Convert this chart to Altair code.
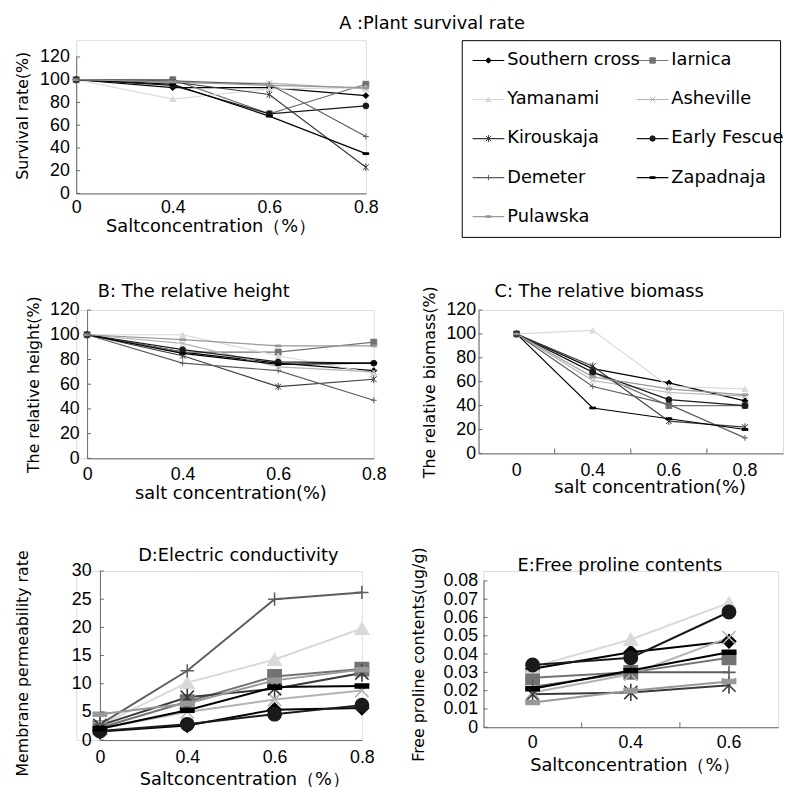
import altair as alt
import pandas as pd

# ---------------- data ----------------
SERIES = ["Southern cross", "Iarnica", "Yamanami", "Asheville", "Kirouskaja",
          "Early Fescue", "Demeter", "Zapadnaja", "Pulawska"]
COLORS = ["#000000", "#737373", "#d9d9d9", "#b3b3b3", "#3a3a3a",
          "#1a1a1a", "#5e5e5e", "#000000", "#999999"]
SHAPES = ["diamond", "square", "triangle-up",
          "M-1,-1L1,1M-1,1L1,-1",
          "M-1,-1L1,1M-1,1L1,-1M0,-1.3L0,1.3",
          "circle",
          "M-1,0L1,0M0,-1L0,1",
          "M-1,-0.3L1,-0.3L1,0.3L-1,0.3Z",
          "M-1,-0.3L1,-0.3L1,0.3L-1,0.3Z"]

X4 = ["0", "0.4", "0.6", "0.8"]
X3 = ["0", "0.4", "0.6"]

SURVIVAL = {
    "Southern cross": [100, 93, 93, 86],
    "Iarnica": [100, 100, 70, 96],
    "Yamanami": [100, 83, 92, 93],
    "Asheville": [100, 97, 97, 92],
    "Kirouskaja": [100, 98, 87, 23],
    "Early Fescue": [100, 95, 70, 77],
    "Demeter": [100, 99, 96, 50],
    "Zapadnaja": [100, 96, 68, 35],
    "Pulawska": [100, 98, 95, 93],
}
HEIGHT = {
    "Southern cross": [100, 86, 77, 71],
    "Iarnica": [100, 86, 86, 94],
    "Yamanami": [100, 100, 83, 69],
    "Asheville": [100, 93, 74, 70],
    "Kirouskaja": [100, 83, 58, 64],
    "Early Fescue": [100, 88, 78, 77],
    "Demeter": [100, 77, 71, 47],
    "Zapadnaja": [100, 85, 76, 77],
    "Pulawska": [100, 96, 91, 91],
}
BIOMASS = {
    "Southern cross": [100, 71, 59, 44],
    "Iarnica": [100, 68, 40, 40],
    "Yamanami": [100, 103, 56, 54],
    "Asheville": [100, 61, 51, 48],
    "Kirouskaja": [100, 73, 27, 22],
    "Early Fescue": [100, 68, 45, 40],
    "Demeter": [100, 56, 41, 13],
    "Zapadnaja": [100, 38, 29, 20],
    "Pulawska": [100, 64, 54, 49],
}
CONDUCT = {
    "Southern cross": [1.5, 2.6, 5.4, 5.7],
    "Iarnica": [2.2, 6.8, 11.3, 12.6],
    "Yamanami": [2.6, 10.2, 14.3, 19.8],
    "Asheville": [2.0, 5.0, 7.2, 8.8],
    "Kirouskaja": [2.6, 7.6, 9.1, 11.9],
    "Early Fescue": [1.6, 2.8, 4.6, 6.2],
    "Demeter": [2.8, 12.3, 25.0, 26.2],
    "Zapadnaja": [2.0, 5.3, 9.4, 9.6],
    "Pulawska": [4.6, 6.5, 10.6, 12.5],
}
PROLINE = {
    "Southern cross": [0.032, 0.041, 0.047],
    "Iarnica": [0.027, 0.030, 0.038],
    "Yamanami": [0.033, 0.048, 0.068],
    "Asheville": [0.019, 0.029, 0.049],
    "Kirouskaja": [0.018, 0.019, 0.023],
    "Early Fescue": [0.034, 0.038, 0.063],
    "Demeter": [0.022, 0.030, 0.030],
    "Zapadnaja": [0.021, 0.031, 0.041],
    "Pulawska": [0.0135, 0.020, 0.025],
}

TICKS_100 = [0, 20, 40, 60, 80, 100, 120]
TICKS_30 = [0, 5, 10, 15, 20, 25, 30]
TICKS_008 = [0, 0.01, 0.02, 0.03, 0.04, 0.05, 0.06, 0.07, 0.08]

TITLE_A = "A :Plant survival rate"
TITLE_B = "B: The relative  height"
TITLE_C = "C: The relative biomass"
TITLE_D = "D:Electric conductivity"
TITLE_E = "E:Free proline contents"

# ---------------- style ----------------
FONT = "DejaVu Sans"
TICKFONT = "Liberation Sans"
AXC = "#666666"

color_scale = alt.Scale(domain=SERIES, range=COLORS)
shape_scale = alt.Scale(domain=SERIES, range=SHAPES)


def long_df(values, cats):
    rows = []
    for s in SERIES:
        for c, v in zip(cats, values[s]):
            rows.append({"series": s, "x": c, "y": v})
    return pd.DataFrame(rows)


def panel(values, cats, band, w, h, ydom, yvals, ytitle, xtitle,
          y_lp, y_ext, y_tp, x_lp, x_tp, msize, lw,
          xrange=None, yrange=None, yoff=0, xtitle_x=None, ytitle_y=None,
          title=None, tx=0, ty=0, labelexpr=None):
    df = long_df(values, cats)
    skw = dict(domain=cats)
    if xrange:
        skw["range"] = xrange
    if band:
        xscale = alt.Scale(type="band", paddingInner=0, paddingOuter=0, **skw)
    else:
        xscale = alt.Scale(type="point", padding=0, **skw)
    xkw = dict(title=xtitle, labelFont=TICKFONT, labelFontSize=18,
               labelPadding=x_lp, ticks=False, labelAngle=0,
               titleFont=FONT, titleFontSize=18, titleFontWeight="normal",
               titlePadding=x_tp, minExtent=25, maxExtent=25,
               domainColor=AXC, labelColor="#000", titleColor="#000")
    if xtitle_x is not None:
        xkw["titleX"] = xtitle_x
    xaxis = alt.Axis(**xkw)
    ykw = dict(title=ytitle, values=yvals, labelFont=TICKFONT, labelFontSize=18,
               labelPadding=y_lp, ticks=False, grid=False, offset=yoff,
               titleFont=FONT, titleFontSize=16, titleFontWeight="normal",
               titlePadding=y_tp, minExtent=y_ext, maxExtent=y_ext,
               domainColor=AXC, labelColor="#000", titleColor="#000")
    if labelexpr:
        ykw["labelExpr"] = labelexpr
    if ytitle_y is not None:
        ykw["titleY"] = ytitle_y
    yaxis = alt.Axis(**ykw)
    ysk = dict(domain=ydom, nice=False, zero=True)
    if yrange:
        ysk["range"] = yrange
    yscale = alt.Scale(**ysk)

    if band:
        X = alt.X("x:O", scale=xscale, axis=xaxis, bandPosition=0.5)
    else:
        X = alt.X("x:O", scale=xscale, axis=xaxis)
    Y = alt.Y("y:Q", scale=yscale, axis=yaxis)

    base = alt.Chart(df)
    lines = base.mark_line(strokeWidth=lw).encode(
        x=X, y=Y,
        stroke=alt.Stroke("series:N", scale=color_scale, legend=None),
        detail="series:N")
    points = base.mark_point(size=msize, opacity=1, strokeWidth=max(1, lw * 0.8)).encode(
        x=X, y=Y,
        shape=alt.Shape("series:N", scale=shape_scale, legend=None),
        fill=alt.Fill("series:N", scale=color_scale, legend=None),
        stroke=alt.Stroke("series:N", scale=color_scale, legend=None))
    ytick = alt.Chart(pd.DataFrame({"y": yvals})).mark_rule(color=AXC, strokeWidth=1).encode(
        y=Y, x=alt.value(-yoff), x2=alt.value(-yoff + 4))
    layers = [lines, points, ytick]
    if band:
        xt = alt.Chart(pd.DataFrame({"x": cats[1:]})).mark_rule(color=AXC, strokeWidth=1).encode(
            x=alt.X("x:O", scale=xscale, axis=xaxis, bandPosition=0),
            y=alt.value(h), y2=alt.value(h - 5))
        layers.append(xt)
    if title:
        tt = alt.Chart(pd.DataFrame({"t": [title]})).mark_text(
            font=FONT, fontSize=18, align="center", baseline="alphabetic", color="#000"
        ).encode(text="t:N", x=alt.value(tx), y=alt.value(ty))
        layers.append(tt)
    return alt.layer(*layers).properties(width=w, height=h)


# view origins of the left panels are aligned by the layout
A = panel(SURVIVAL, X4, False, 293, 155, [0, 120], TICKS_100, "Survival rate(%)",
          "Saltconcentration（%）", 7, 38, 8.5, 5, 0, 35, 1.2,
          yrange=[155, 17], xtitle_x=136, ytitle_y=76)
B = panel(HEIGHT, X4, False, 301, 150, [0, 120], TICKS_100, "The relative height(%)",
          "salt concentration(%)", 8, 38, 8.5, 7, 2, 35, 1.2,
          xrange=[11, 301], yoff=-11, title=TITLE_B, tx=119, ty=-13)
C = panel(BIOMASS, X4, True, 308, 145, [0, 120], TICKS_100, "The relative biomass(%)",
          "salt concentration(%)", 3, 33, 8.5, 8.5, 1, 35, 1.2,
          xtitle_x=173, title=TITLE_C, tx=122, ty=-13)
D = panel(CONDUCT, X4, False, 289, 171, [0, 30], TICKS_30, "Membrane permeability rate",
          "Saltconcentration（%）", 9, 30, 40.5, 8.5, 6, 180, 2,
          xrange=[24, 289], yoff=-24, xtitle_x=170, ytitle_y=93,
          title=TITLE_D, tx=164, ty=-10)
E = panel(PROLINE, X3, True, 298, 158, [0, 0.08], TICKS_008, "Free proline contents(ug/g)",
          "Saltconcentration（%）", 6, 41, 16.5, 7, 5, 180, 2,
          yrange=[158, 10], xtitle_x=153, title=TITLE_E, tx=138, ty=0,
          labelexpr="datum.value == 0 ? '0' : format(datum.value, '.2f')")

# ---------------- legend panel ----------------
leg_df = pd.DataFrame({"series": SERIES,
                       "col": [i % 2 for i in range(len(SERIES))],
                       "row": [i // 2 for i in range(len(SERIES))]})
LX = alt.X("col:O", scale=alt.Scale(type="point", domain=[0, 1], range=[27, 193], padding=0), axis=None)
LY = alt.Y("row:O", scale=alt.Scale(type="point", domain=[0, 1, 2, 3, 4], padding=0.52), axis=None)
lbase = alt.Chart(leg_df)
lrules = lbase.mark_rule(xOffset=-16, x2Offset=16, strokeWidth=1.2).encode(
    x=LX, x2=alt.X2("col"), y=LY,
    stroke=alt.Stroke("series:N", scale=color_scale, legend=None))
lpoints = lbase.mark_point(size=30, opacity=1, strokeWidth=1).encode(
    x=LX, y=LY,
    shape=alt.Shape("series:N", scale=shape_scale, legend=None),
    fill=alt.Fill("series:N", scale=color_scale, legend=None),
    stroke=alt.Stroke("series:N", scale=color_scale, legend=None))
ltext = lbase.mark_text(align="left", baseline="middle", dx=19, font=FONT, fontSize=18,
                        color="#000").encode(x=LX, y=LY, text="series:N")
L = alt.layer(lrules, lpoints, ltext).properties(
    width=322, height=199, view=alt.ViewBackground(stroke="#000", strokeWidth=1))

row1 = alt.hconcat(A, L, spacing=82,
                   title=alt.TitleParams(text=TITLE_A, font=FONT, fontSize=18,
                                         fontWeight="normal", anchor="start", frame="bounds",
                                         dx=329, offset=7, color="#000"))
row2 = alt.hconcat(B, C, spacing=33)
row3 = alt.hconcat(D, E, spacing=35)

chart = alt.vconcat(row1, alt.vconcat(row2, row3, spacing=42), spacing=45).properties(
    padding={"left": 5, "top": 2, "right": 2, "bottom": 0}
).configure_view(stroke=None).configure(font=FONT)

chart.save("out.html", embed_options={"renderer": "svg", "actions": False})
